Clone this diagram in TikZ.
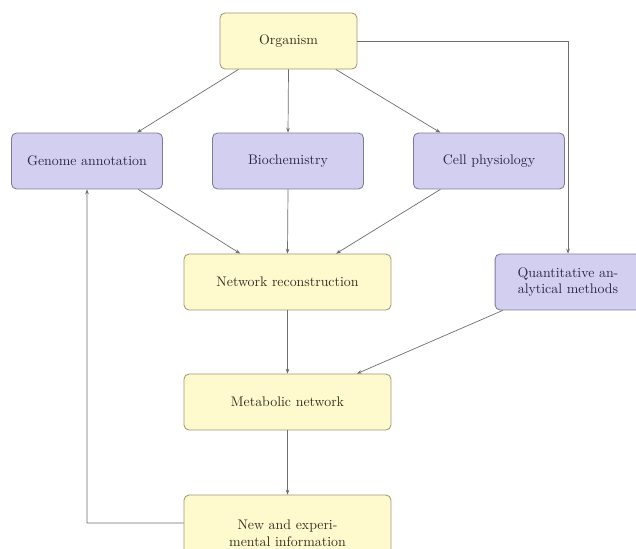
\documentclass[tikz,border=0pt]{standalone}
\usetikzlibrary{arrows.meta,calc}
\definecolor{yfill}{RGB}{255,249,206}
\definecolor{ydraw}{RGB}{160,150,115}
\definecolor{pfill}{RGB}{210,207,240}
\definecolor{pdraw}{RGB}{125,122,155}
\definecolor{ytext}{RGB}{50,47,30}
\definecolor{ptext}{RGB}{40,40,70}
\definecolor{lcol}{RGB}{110,110,110}
\tikzset{
  box/.style={rounded corners=3.6pt, line width=0.6pt, minimum height=40.3pt, align=center, inner sep=2pt},
  ybox/.style={box, fill=yfill, draw=ydraw, text=ytext},
  pbox/.style={box, fill=pfill, draw=pdraw, text=ptext},
  conn/.style={draw=lcol, line width=0.5pt, -{Stealth[length=3.5pt,width=2.6pt]}}
}
\begin{document}
\begin{tikzpicture}[x=0.72pt,y=-0.72pt]
\useasboundingbox[fill=white] (0,0) rectangle (636,548);
\node[ybox, minimum width=98.6pt] (org) at (288.5,41) {Organism};
\node[pbox, minimum width=108.7pt] (gen) at (87,161) {Genome annotation};
\node[pbox, minimum width=108.7pt] (bio) at (288,161) {Biochemistry};
\node[pbox, minimum width=108.7pt] (cell) at (489,161) {Cell physiology};
\node[ybox, minimum width=149pt] (net) at (287.5,282) {Network reconstruction};
\node[pbox, minimum width=105pt] (quant) at (568,282) {Quantitative an-\\alytical methods};
\node[ybox, minimum width=149pt] (met) at (287.5,402) {Metabolic network};
\node[ybox, minimum width=149pt, minimum height=54.7pt] (new) at (287.5,533) {New and experi-\\mental information};
\coordinate (corner1) at (568,41);
\coordinate (corner2) at (87,523);

\draw[conn] ([xshift=-36pt]org.south) -- ([xshift=36pt]gen.north);
\draw[conn] (org.south) -- (bio.north);
\draw[conn] ([xshift=34pt]org.south) -- ([xshift=-35pt]cell.north);
\draw[conn] (org.east) -- (corner1) -- (quant.north);
\draw[conn] ([xshift=37pt]gen.south) -- ([xshift=-34pt]net.north);
\draw[conn] (bio.south) -- (net.north);
\draw[conn] ([xshift=-35pt]cell.south) -- ([xshift=35pt]net.north);
\draw[conn] (net.south) -- (met.north);
\draw[conn] ([xshift=-47pt]quant.south) -- ([xshift=50pt]met.north);
\draw[conn] (met.south) -- (new.north);
\draw[conn] ([yshift=7.2pt]new.west) -- (corner2) -- (gen.south);
\end{tikzpicture}
\end{document}
